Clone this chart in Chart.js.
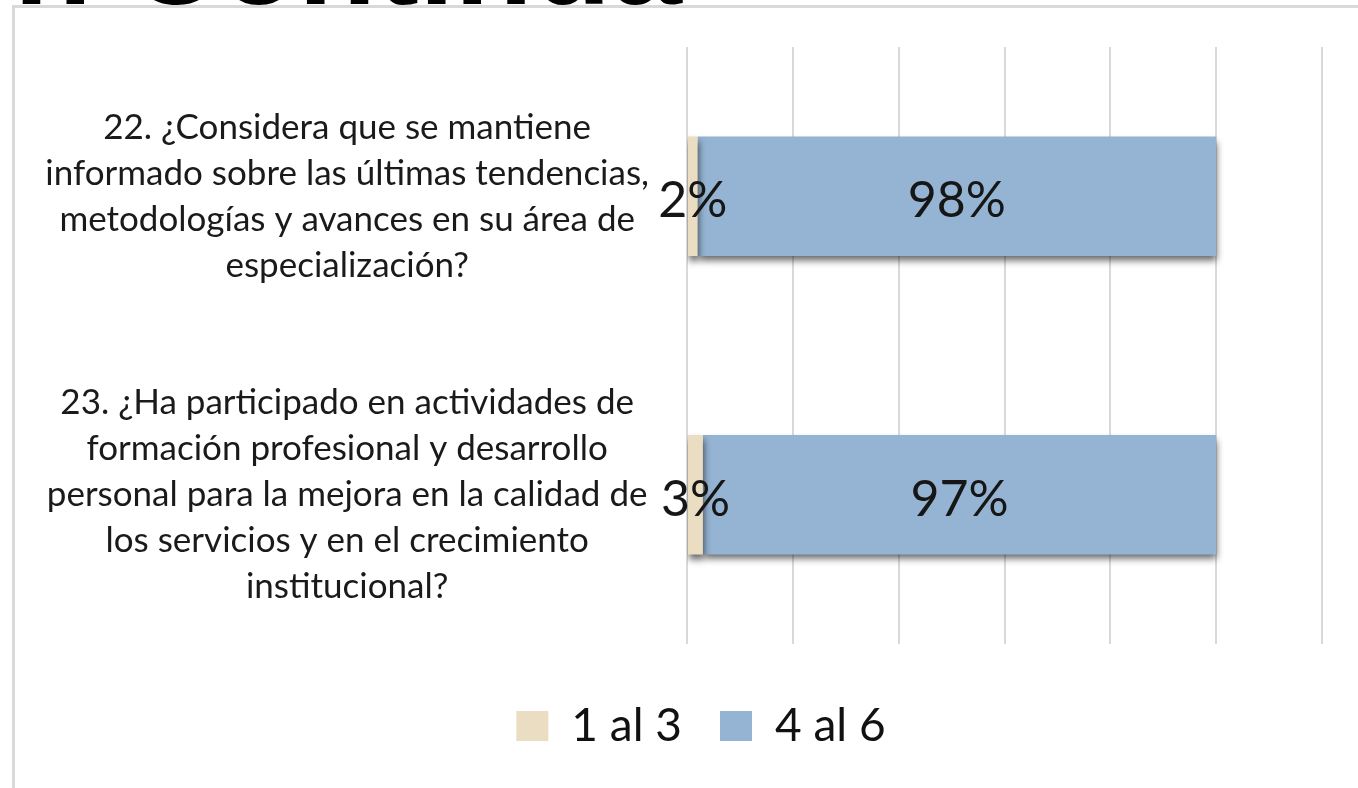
<!DOCTYPE html>
<html>
<head>
<meta charset="utf-8">
<script src="https://cdn.jsdelivr.net/npm/chart.js@4.4.1/dist/chart.umd.min.js"></script>
<style>
  html, body { margin:0; padding:0; background:#fff; width:1358px; height:788px; overflow:hidden; }
  #frame { position:absolute; left:12px; top:5px; width:1346px; height:783px;
           border-left:3px solid #d9d9d9; border-top:3px solid #d9d9d9; box-sizing:border-box; }
  #title { position:absolute; right:676px; top:-104px; font:bold 128px "Liberation Sans", Arial, sans-serif;
           line-height:128px; white-space:nowrap; color:#000; }
  #wrap { position:absolute; left:0; top:0; width:1358px; height:788px; }
</style>
</head>
<body>
<div id="frame"></div>
<div id="title">Educación Continua</div>
<div id="wrap"><canvas id="c" width="1358" height="788"></canvas></div>
<script>
const categories = [
  ["22. ¿Considera que se mantiene", "informado sobre las últimas tendencias,", "metodologías y avances en su área de", "especialización?"],
  ["23. ¿Ha participado en actividades de", "formación profesional y desarrollo", "personal para la mejora en la calidad de", "los servicios y en el crecimiento", "institucional?"]
];
const seriesNames = ["1 al 3", "4 al 6"];
const low = [0.02, 0.03];
const high = [0.98, 0.97];
const xTicks = [0, 0.2, 0.4, 0.6, 0.8, 1.0, 1.2];

const colors = ["#EBDDC2", "#95B4D3"];

const shadowPlugin = {
  id: 'shadow',
  beforeDatasetsDraw(chart) {
    const ctx = chart.ctx;
    ctx.save();
    ctx.shadowColor = 'rgba(0,0,0,0.6)';
    ctx.shadowBlur = 7;
    ctx.shadowOffsetX = 1;
    ctx.shadowOffsetY = 5;
  },
  afterDatasetsDraw(chart) {
    chart.ctx.restore();
  }
};

const labelPlugin = {
  id: 'vals',
  afterDatasetsDraw(chart) {
    const ctx = chart.ctx;
    ctx.save();
    ctx.font = '50px Lato';
    ctx.fillStyle = '#161616';
    ctx.textAlign = 'center';
    ctx.textBaseline = 'middle';
    chart.data.datasets.forEach((ds, di) => {
      const meta = chart.getDatasetMeta(di);
      meta.data.forEach((bar, i) => {
        const v = ds.data[i];
        const cx = (bar.x + bar.base) / 2;
        ctx.fillText(Math.round(v * 100) + '%', cx, bar.y + 5);
      });
    });
    ctx.restore();
  }
};

const legendShift = {
  id: 'legendShift',
  afterLayout(chart) {
    const lg = chart.legend;
    if (lg) { lg.left += 40; lg.right += 40; }
  }
};

new Chart(document.getElementById('c'), {
  type: 'bar',
  data: {
    labels: categories,
    datasets: [
      { label: seriesNames[0], data: low, backgroundColor: colors[0], borderWidth: 0,
        categoryPercentage: 0.8, barPercentage: 0.5 },
      { label: seriesNames[1], data: high, backgroundColor: colors[1], borderWidth: 0,
        categoryPercentage: 0.8, barPercentage: 0.5 }
    ]
  },
  options: {
    indexAxis: 'y',
    responsive: false,
    animation: false,
    devicePixelRatio: 1,
    layout: { padding: { left: 0, right: 36, top: 47, bottom: 29 } },
    scales: {
      x: {
        stacked: true, min: 0, max: 1.2,
        afterBuildTicks(scale) { scale.ticks = xTicks.map(v => ({ value: v })); },
        ticks: { display: false },
        grid: { color: '#D9D9D9', lineWidth: 2, drawTicks: false },
        border: { display: false },
        afterFit(scale) { scale.height = 21; scale.paddingLeft = 0; scale.paddingRight = 0; }
      },
      y: {
        stacked: true,
        grid: { display: false, drawTicks: false },
        border: { display: false },
        ticks: {
          crossAlign: 'center', padding: 38, color: '#1a1a1a',
          font: { family: 'Lato', size: 35, lineHeight: 46/35 }
        },
        afterFit(scale) { scale.width = 687; scale.paddingTop = 0; scale.paddingBottom = 0; }
      }
    },
    plugins: {
      legend: {
        position: 'bottom',
        labels: {
          boxWidth: 32, boxHeight: 30, padding: 38, color: '#111',
          font: { family: 'Lato', size: 46 }
        }
      },
      tooltip: { enabled: false }
    }
  },
  plugins: [shadowPlugin, labelPlugin, legendShift]
});
</script>
</body>
</html>
